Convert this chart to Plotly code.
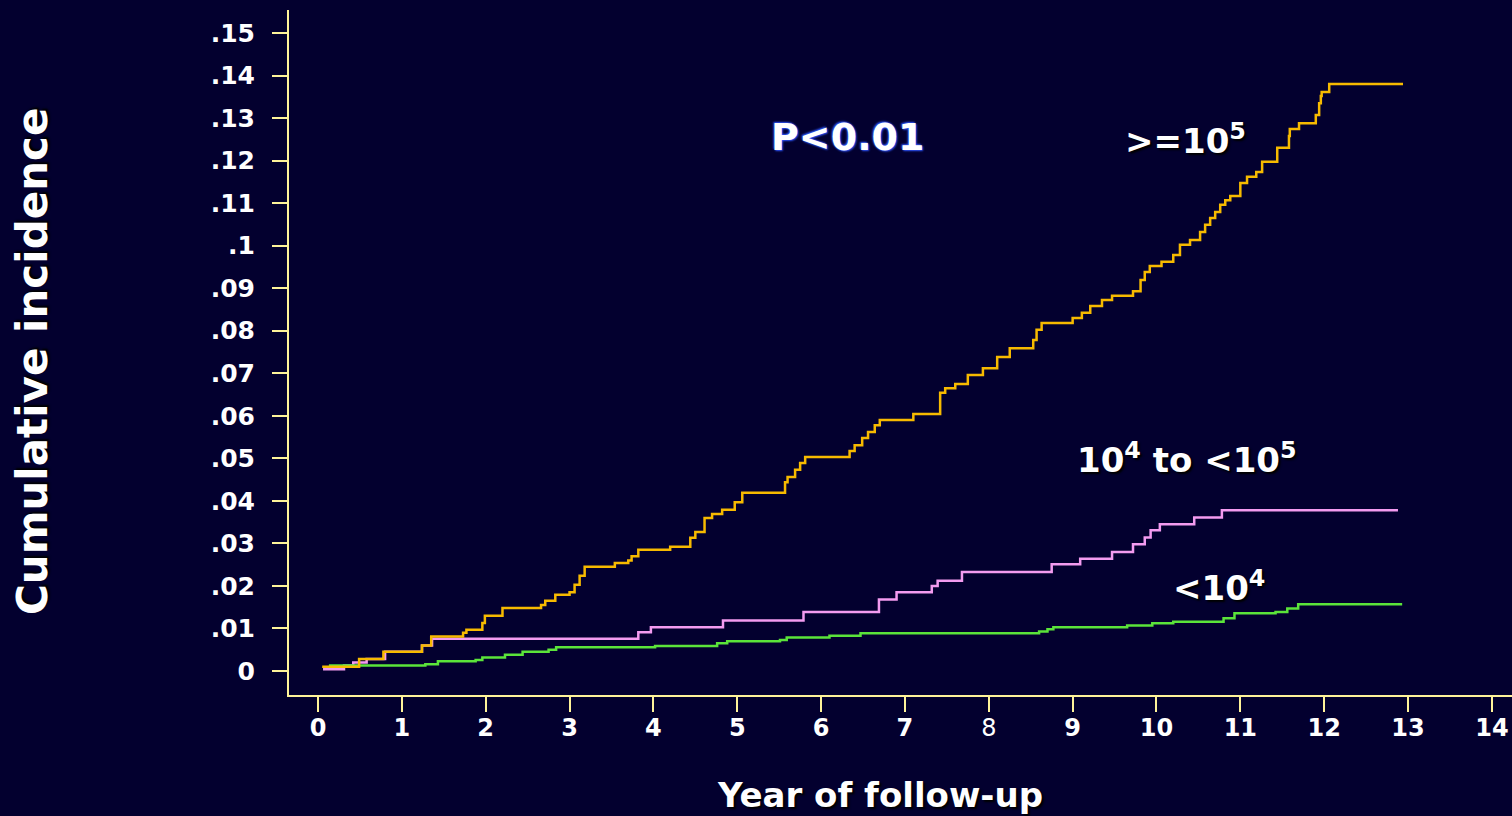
import plotly.graph_objects as go

# Cumulative incidence step curves by viral load group (time in years, cumulative incidence)
high_t = [0.05, 0.49, 0.78, 1.24, 1.35, 1.73, 1.77, 1.96, 1.99, 2.20, 2.66, 2.71, 2.83,
          3.00, 3.06, 3.12, 3.18, 3.54, 3.70, 3.74, 3.82, 4.20, 4.44, 4.50, 4.61, 4.70,
          4.82, 4.97, 5.06, 5.57, 5.60, 5.69, 5.75, 5.81, 6.34, 6.40, 6.49, 6.56, 6.64,
          6.70, 7.10, 7.42, 7.48, 7.60, 7.75, 7.93, 8.10, 8.25, 8.53, 8.57, 8.63, 9.00,
          9.11, 9.21, 9.35, 9.47, 9.72, 9.81, 9.86, 9.92, 10.06, 10.20, 10.28, 10.40,
          10.52, 10.58, 10.64, 10.70, 10.76, 10.82, 10.88, 11.00, 11.08, 11.19, 11.26,
          11.44, 11.58, 11.59, 11.70, 11.90, 11.94, 11.96, 11.97, 12.06, 12.94]
high_y = [0.0010, 0.0028, 0.0045, 0.0060, 0.0081, 0.0090, 0.0097, 0.0113, 0.0130, 0.0148,
          0.0155, 0.0165, 0.0179, 0.0185, 0.0203, 0.0224, 0.0245, 0.0254, 0.0260, 0.0270,
          0.0285, 0.0292, 0.0313, 0.0327, 0.0360, 0.0369, 0.0379, 0.0397, 0.0419, 0.0444,
          0.0456, 0.0473, 0.0489, 0.0503, 0.0517, 0.0531, 0.0548, 0.0562, 0.0578, 0.0590,
          0.0604, 0.0654, 0.0665, 0.0675, 0.0696, 0.0712, 0.0738, 0.0759, 0.0778, 0.0802,
          0.0818, 0.0830, 0.0842, 0.0858, 0.0872, 0.0882, 0.0893, 0.0919, 0.0938, 0.0952,
          0.0962, 0.0978, 0.1002, 0.1013, 0.1032, 0.1049, 0.1065, 0.1079, 0.1096, 0.1107,
          0.1117, 0.1147, 0.1162, 0.1173, 0.1197, 0.1230, 0.1258, 0.1274, 0.1288, 0.1307,
          0.1335, 0.1352, 0.1361, 0.1380, 0.1380]

mid_t = [0.06, 0.31, 0.42, 0.58, 0.80, 1.24, 1.36, 3.82, 3.97, 4.83, 5.79, 6.69, 6.90,
         7.32, 7.39, 7.68, 8.75, 9.09, 9.47, 9.72, 9.86, 9.93, 10.04, 10.45, 10.78, 12.88]
mid_y = [0.0004, 0.0013, 0.0020, 0.0028, 0.0045, 0.0060, 0.0076, 0.0091, 0.0103, 0.0119,
         0.0139, 0.0168, 0.0185, 0.0200, 0.0212, 0.0233, 0.0251, 0.0264, 0.0280, 0.0298,
         0.0314, 0.0331, 0.0345, 0.0361, 0.0378, 0.0378]

low_t = [0.13, 1.28, 1.43, 1.88, 1.96, 2.23, 2.44, 2.75, 2.84, 4.02, 4.76, 4.88, 5.51,
         5.59, 6.10, 6.47, 8.60, 8.70, 8.77, 9.65, 9.95, 10.20, 10.80, 10.93, 11.42,
         11.56, 11.69, 12.93]
low_y = [0.0013, 0.0016, 0.0023, 0.0026, 0.0032, 0.0038, 0.0045, 0.0050, 0.0056, 0.0059,
         0.0065, 0.0070, 0.0073, 0.0079, 0.0083, 0.0089, 0.0093, 0.0098, 0.0103, 0.0107,
         0.0112, 0.0116, 0.0124, 0.0136, 0.0139, 0.0147, 0.0157, 0.0157]

x_ticks = list(range(15))
x_labels = ["<b>%d</b>" % v if v != 8 else "8" for v in x_ticks]
y_ticks = [0, 0.01, 0.02, 0.03, 0.04, 0.05, 0.06, 0.07, 0.08, 0.09, 0.10, 0.11, 0.12,
           0.13, 0.14, 0.15]
y_labels = ["0", ".01", ".02", ".03", ".04", ".05", ".06", ".07", ".08", ".09", ".1",
            ".11", ".12", ".13", ".14", ".15"]

BG = "#03002F"
AXIS = "#FFF39A"
FONT = "DejaVu Sans"

fig = go.Figure()
fig.add_trace(go.Scatter(x=mid_t, y=mid_y, mode="lines", line_shape="hv",
                         line=dict(color="#F39BF0", width=2.5), name="10^4 to <10^5"))
fig.add_trace(go.Scatter(x=low_t, y=low_y, mode="lines", line_shape="hv",
                         line=dict(color="#5BE43A", width=2.5), name="<10^4"))
fig.add_trace(go.Scatter(x=high_t, y=high_y, mode="lines", line_shape="hv",
                         line=dict(color="#F7BA00", width=2.5), name=">=10^5"))

shadow = "2px 2px 2px #000000"
label_font = dict(family=FONT, size=34, color="white", weight="bold", shadow=shadow)

annotations = [
    dict(text="P<0.01", x=6.32, y=0.1256, xref="x", yref="y", showarrow=False,
         font=dict(family=FONT, size=38, color="white", weight="bold",
                   shadow="1px 1px 2px #2F55FF, -1px -1px 2px #2F55FF")),
    dict(text=">=10<sup>5</sup>", x=9.60, y=0.1250, xref="x", yref="y", showarrow=False,
         xanchor="left", font=label_font),
    dict(text="10<sup>4</sup> to <10<sup>5</sup>", x=9.03, y=0.0500, xref="x", yref="y",
         showarrow=False, xanchor="left", font=label_font),
    dict(text="<10<sup>4</sup>", x=10.17, y=0.0201, xref="x", yref="y", showarrow=False,
         xanchor="left", font=label_font),
    dict(text="Cumulative incidence", x=-0.2093, y=0.4876, xref="paper", yref="paper",
         showarrow=False, textangle=-90, xanchor="center", yanchor="middle",
         font=dict(family=FONT, size=42, color="white", weight="bold", shadow=shadow)),
    dict(text="Year of follow-up", x=0.4832, y=-0.146, xref="paper", yref="paper",
         showarrow=False, xanchor="center", yanchor="middle",
         font=dict(family=FONT, size=34, color="white", weight="bold", shadow=shadow)),
]

fig.update_layout(
    width=1512, height=816,
    margin=dict(l=289, r=0, t=10, b=121),
    paper_bgcolor=BG, plot_bgcolor=BG,
    showlegend=False,
    annotations=annotations,
    xaxis=dict(range=[-0.346, 14.24], tickvals=x_ticks, ticktext=x_labels,
               showgrid=False, zeroline=False, showline=True, linecolor=AXIS, linewidth=2,
               ticks="outside", ticklen=15, tickwidth=2, tickcolor=AXIS,
               ticklabelstandoff=-5,
               tickfont=dict(family=FONT, size=24, color="white")),
    yaxis=dict(range=[-0.00564, 0.1554], tickvals=y_ticks, ticktext=y_labels,
               showgrid=False, zeroline=False, showline=True, linecolor=AXIS, linewidth=2,
               ticks="outside", ticklen=15, tickwidth=2, tickcolor=AXIS,
               ticklabelstandoff=12,
               tickfont=dict(family=FONT, size=25, color="white", weight="bold")),
)

fig.write_html("out.html")
